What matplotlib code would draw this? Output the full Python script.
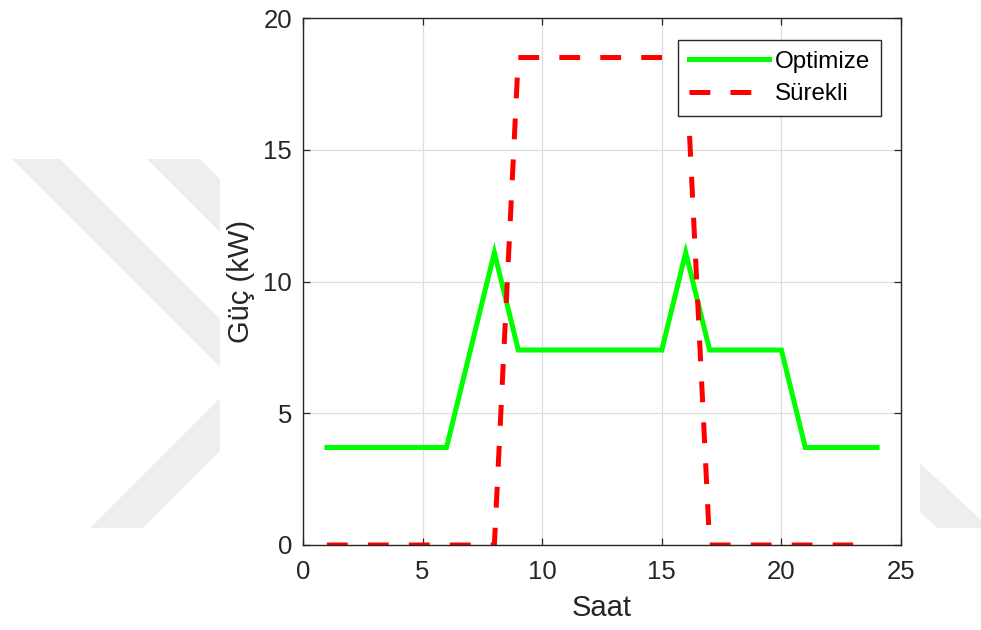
import numpy as np
import matplotlib.pyplot as plt
from matplotlib.patches import Polygon

plt.rcParams['font.family'] = ['Liberation Sans', 'DejaVu Sans']
plt.rcParams['lines.scale_dashes'] = False

# hourly data
saat = np.arange(1, 25)
optimize = [3.7, 3.7, 3.7, 3.7, 3.7, 3.7, 7.4, 11.1, 7.4, 7.4, 7.4, 7.4,
            7.4, 7.4, 7.4, 11.1, 7.4, 7.4, 7.4, 7.4, 3.7, 3.7, 3.7, 3.7]
saat_s = np.arange(1, 24)
surekli = [0, 0, 0, 0, 0, 0, 0, 0, 18.5, 18.5, 18.5, 18.5,
           18.5, 18.5, 18.5, 18.5, 0, 0, 0, 0, 0, 0, 0]

W, H = 981, 630
fig = plt.figure(figsize=(W / 100, H / 100), dpi=100)

# faint watermark chevrons behind the figure (pixel coords)
wm_shapes = [
    [(12, 159), (60, 159), (220, 319), (220, 367)],
    [(147, 159), (200, 159), (220, 179), (220, 232)],
    [(90, 528), (143, 528), (220, 451), (220, 398)],
    [(920, 463), (981, 520), (981, 528), (938, 528), (920, 512)],
]
for pts in wm_shapes:
    fig.patches.append(Polygon([(x / W, 1 - y / H) for x, y in pts], closed=True,
                               transform=fig.transFigure, facecolor='#eeeeee',
                               edgecolor='none', zorder=0))

ax = fig.add_axes([303 / W, 1 - 545 / H, (901 - 303) / W, (545 - 18) / H])

txt = '#262626'
ax.plot(saat, optimize, color='#00ff00', lw=3.6, label='Optimize',
        solid_joinstyle='miter')
ax.plot(saat_s, surekli, color='#ff0000', lw=3.6, dashes=(15, 14.5),
        label='Sürekli', dash_capstyle='butt')

ax.set_xlim(0, 25)
ax.set_ylim(0, 20)
ax.set_xticks([0, 5, 10, 15, 20, 25])
ax.set_yticks([0, 5, 10, 15, 20])
ax.grid(True, color='#dedede', lw=0.9)
ax.set_axisbelow(True)
ax.tick_params(direction='in', length=5, width=0.9, top=True, right=True,
               labelsize=18.5, colors=txt)
ax.tick_params(axis='x', pad=11)
ax.tick_params(axis='y', pad=8)
for s in ax.spines.values():
    s.set_color(txt)
    s.set_linewidth(1.0)

ax.set_xlabel('Saat', fontsize=21, color=txt, labelpad=7)
ax.set_ylabel('Güç (kW)', fontsize=21, color=txt, labelpad=6)

leg = ax.legend(loc='upper right', bbox_to_anchor=((881 - 303) / 598, (545 - 40) / 527),
                borderaxespad=0, fontsize=17.4, fancybox=False, framealpha=1,
                edgecolor=txt, handlelength=3.3, handletextpad=0.25,
                borderpad=0.45, labelspacing=0.42)
leg.get_frame().set_linewidth(1.0)

fig.savefig('out.png', dpi=100)
